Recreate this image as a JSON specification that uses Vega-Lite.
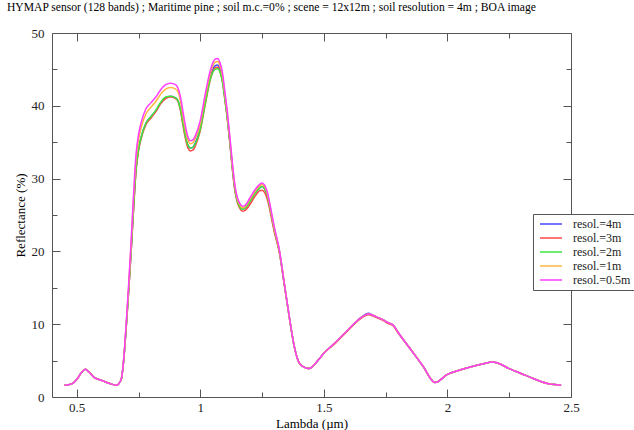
{
  "$schema": "https://vega.github.io/schema/vega-lite/v6.json",
  "width": 519,
  "height": 364,
  "autosize": {"type": "none"},
  "padding": {"left": 52, "top": 33, "right": 63, "bottom": 33},
  "background": "white",
  "title": {"text": "HYMAP sensor (128 bands) ; Maritime pine ; soil m.c.=0% ; scene = 12x12m ; soil resolution = 4m ; BOA image", "anchor": "start", "frame": "group", "dx": -45, "offset": 13, "font": "Liberation Serif", "fontSize": 11.6, "fontWeight": "normal", "color": "#000"},
  "config": {
    "view": {"stroke": "#555", "strokeWidth": 1},
    "font": "Liberation Serif",
    "axis": {"domain": false, "grid": false, "tickColor": "#555", "tickWidth": 1, "labelFont": "Liberation Serif", "labelFontSize": 13, "labelColor": "#222", "titleFont": "Liberation Serif", "titleFontSize": 13, "titleFontWeight": "normal", "titleColor": "#000", "labelOverlap": false, "labelFlush": false},
    "legend": {"labelFont": "Liberation Serif"}
  },
  "data": {"values": [
    {"l":0.45,"4m":1.6,"3m":1.6,"2m":1.6,"1m":1.6,"05m":1.6},
    {"l":0.48,"4m":1.8,"3m":1.8,"2m":1.8,"1m":1.8,"05m":1.8},
    {"l":0.50,"4m":2.4,"3m":2.4,"2m":2.4,"1m":2.4,"05m":2.4},
    {"l":0.52,"4m":3.4,"3m":3.4,"2m":3.4,"1m":3.4,"05m":3.4},
    {"l":0.535,"4m":3.8,"3m":3.8,"2m":3.8,"1m":3.8,"05m":3.8},
    {"l":0.55,"4m":3.4,"3m":3.4,"2m":3.4,"1m":3.4,"05m":3.4},
    {"l":0.57,"4m":2.7,"3m":2.7,"2m":2.7,"1m":2.7,"05m":2.7},
    {"l":0.60,"4m":2.3,"3m":2.3,"2m":2.3,"1m":2.3,"05m":2.3},
    {"l":0.63,"4m":1.9,"3m":1.9,"2m":1.9,"1m":1.9,"05m":1.9},
    {"l":0.66,"4m":1.6,"3m":1.6,"2m":1.6,"1m":1.6,"05m":1.6},
    {"l":0.68,"4m":2.4,"3m":2.4,"2m":2.4,"1m":2.4,"05m":2.4},
    {"l":0.69,"4m":5.0,"3m":5.0,"2m":5.0,"1m":5.1,"05m":5.2},
    {"l":0.70,"4m":9.5,"3m":9.4,"2m":9.5,"1m":9.8,"05m":10.0},
    {"l":0.71,"4m":14.5,"3m":14.4,"2m":14.5,"1m":15.0,"05m":15.4},
    {"l":0.72,"4m":20.0,"3m":19.8,"2m":20.0,"1m":20.8,"05m":21.3},
    {"l":0.73,"4m":26.0,"3m":25.7,"2m":26.0,"1m":27.2,"05m":27.8},
    {"l":0.74,"4m":31.3,"3m":31.0,"2m":31.3,"1m":32.6,"05m":33.3},
    {"l":0.75,"4m":34.0,"3m":33.8,"2m":34.0,"1m":35.3,"05m":36.0},
    {"l":0.76,"4m":35.6,"3m":35.4,"2m":35.6,"1m":36.9,"05m":37.6},
    {"l":0.78,"4m":37.6,"3m":37.4,"2m":37.6,"1m":38.9,"05m":39.6},
    {"l":0.80,"4m":38.5,"3m":38.3,"2m":38.5,"1m":39.8,"05m":40.4},
    {"l":0.82,"4m":39.3,"3m":39.2,"2m":39.4,"1m":40.6,"05m":41.2},
    {"l":0.84,"4m":40.4,"3m":40.3,"2m":40.5,"1m":41.6,"05m":42.2},
    {"l":0.86,"4m":41.1,"3m":41.0,"2m":41.2,"1m":42.3,"05m":42.9},
    {"l":0.88,"4m":41.3,"3m":41.2,"2m":41.3,"1m":42.5,"05m":43.1},
    {"l":0.90,"4m":41.1,"3m":41.0,"2m":41.1,"1m":42.3,"05m":42.9},
    {"l":0.91,"4m":40.7,"3m":40.6,"2m":40.7,"1m":41.9,"05m":42.4},
    {"l":0.92,"4m":39.5,"3m":39.3,"2m":39.5,"1m":40.6,"05m":41.2},
    {"l":0.93,"4m":37.6,"3m":37.3,"2m":37.6,"1m":38.6,"05m":39.2},
    {"l":0.94,"4m":35.8,"3m":35.5,"2m":35.8,"1m":36.7,"05m":37.2},
    {"l":0.95,"4m":34.6,"3m":34.2,"2m":34.6,"1m":35.3,"05m":35.7},
    {"l":0.96,"4m":34.2,"3m":33.8,"2m":34.2,"1m":34.8,"05m":35.2},
    {"l":0.97,"4m":34.3,"3m":33.9,"2m":34.3,"1m":34.9,"05m":35.3},
    {"l":0.98,"4m":34.9,"3m":34.5,"2m":34.8,"1m":35.5,"05m":35.9},
    {"l":1.00,"4m":37.0,"3m":36.6,"2m":36.8,"1m":37.6,"05m":38.0},
    {"l":1.02,"4m":40.6,"3m":40.2,"2m":40.3,"1m":41.2,"05m":41.6},
    {"l":1.04,"4m":43.9,"3m":43.5,"2m":43.6,"1m":44.4,"05m":44.8},
    {"l":1.06,"4m":45.5,"3m":45.2,"2m":45.0,"1m":46.0,"05m":46.4},
    {"l":1.07,"4m":45.6,"3m":45.3,"2m":45.1,"1m":46.1,"05m":46.5},
    {"l":1.08,"4m":45.0,"3m":44.7,"2m":44.6,"1m":45.5,"05m":45.9},
    {"l":1.09,"4m":43.6,"3m":43.3,"2m":43.2,"1m":44.1,"05m":44.5},
    {"l":1.10,"4m":41.0,"3m":40.7,"2m":40.7,"1m":41.5,"05m":41.8},
    {"l":1.11,"4m":38.3,"3m":38.0,"2m":38.1,"1m":38.7,"05m":39.0},
    {"l":1.12,"4m":35.0,"3m":34.7,"2m":34.9,"1m":35.4,"05m":35.6},
    {"l":1.13,"4m":31.5,"3m":31.2,"2m":31.4,"1m":31.8,"05m":32.1},
    {"l":1.14,"4m":28.6,"3m":28.3,"2m":28.5,"1m":28.9,"05m":29.1},
    {"l":1.15,"4m":27.0,"3m":26.7,"2m":26.9,"1m":27.2,"05m":27.4},
    {"l":1.16,"4m":26.2,"3m":25.9,"2m":26.1,"1m":26.4,"05m":26.6},
    {"l":1.17,"4m":25.8,"3m":25.5,"2m":25.8,"1m":26.0,"05m":26.2},
    {"l":1.18,"4m":25.9,"3m":25.6,"2m":25.9,"1m":26.1,"05m":26.3},
    {"l":1.20,"4m":26.8,"3m":26.4,"2m":26.8,"1m":27.1,"05m":27.3},
    {"l":1.22,"4m":27.9,"3m":27.5,"2m":27.9,"1m":28.2,"05m":28.4},
    {"l":1.24,"4m":28.7,"3m":28.3,"2m":28.7,"1m":29.0,"05m":29.2},
    {"l":1.25,"4m":28.9,"3m":28.4,"2m":28.9,"1m":29.2,"05m":29.4},
    {"l":1.26,"4m":28.6,"3m":28.1,"2m":28.6,"1m":28.9,"05m":29.1},
    {"l":1.27,"4m":27.8,"3m":27.3,"2m":27.8,"1m":28.1,"05m":28.3},
    {"l":1.28,"4m":26.3,"3m":25.9,"2m":26.3,"1m":26.6,"05m":26.8},
    {"l":1.29,"4m":24.6,"3m":24.2,"2m":24.6,"1m":24.8,"05m":25.0},
    {"l":1.30,"4m":22.9,"3m":22.6,"2m":22.9,"1m":23.1,"05m":23.3},
    {"l":1.32,"4m":20.0,"3m":19.8,"2m":20.0,"1m":20.1,"05m":20.2},
    {"l":1.34,"4m":15.5,"3m":15.4,"2m":15.5,"1m":15.6,"05m":15.6},
    {"l":1.36,"4m":11.0,"3m":11.0,"2m":11.0,"1m":11.0,"05m":11.1},
    {"l":1.38,"4m":7.0,"3m":7.0,"2m":7.0,"1m":7.0,"05m":7.0},
    {"l":1.40,"4m":4.7,"3m":4.7,"2m":4.7,"1m":4.7,"05m":4.7},
    {"l":1.42,"4m":4.1,"3m":4.1,"2m":4.1,"1m":4.1,"05m":4.1},
    {"l":1.44,"4m":3.9,"3m":3.9,"2m":3.9,"1m":3.9,"05m":3.9},
    {"l":1.46,"4m":4.4,"3m":4.4,"2m":4.4,"1m":4.4,"05m":4.4},
    {"l":1.48,"4m":5.2,"3m":5.2,"2m":5.2,"1m":5.2,"05m":5.2},
    {"l":1.50,"4m":6.0,"3m":6.0,"2m":6.0,"1m":6.0,"05m":6.0},
    {"l":1.55,"4m":7.6,"3m":7.5,"2m":7.6,"1m":7.6,"05m":7.6},
    {"l":1.60,"4m":9.3,"3m":9.2,"2m":9.3,"1m":9.3,"05m":9.3},
    {"l":1.65,"4m":10.9,"3m":10.8,"2m":10.9,"1m":10.9,"05m":10.9},
    {"l":1.68,"4m":11.5,"3m":11.3,"2m":11.4,"1m":11.4,"05m":11.4},
    {"l":1.70,"4m":11.2,"3m":11.1,"2m":11.2,"1m":11.2,"05m":11.2},
    {"l":1.72,"4m":10.9,"3m":10.8,"2m":10.9,"1m":10.9,"05m":10.9},
    {"l":1.74,"4m":10.6,"3m":10.5,"2m":10.6,"1m":10.6,"05m":10.6},
    {"l":1.76,"4m":10.2,"3m":10.1,"2m":10.2,"1m":10.2,"05m":10.2},
    {"l":1.78,"4m":9.9,"3m":9.8,"2m":9.9,"1m":9.9,"05m":9.9},
    {"l":1.80,"4m":8.9,"3m":8.8,"2m":8.9,"1m":8.9,"05m":8.9},
    {"l":1.85,"4m":6.6,"3m":6.6,"2m":6.6,"1m":6.6,"05m":6.6},
    {"l":1.90,"4m":4.3,"3m":4.3,"2m":4.3,"1m":4.3,"05m":4.3},
    {"l":1.95,"4m":2.0,"3m":2.0,"2m":2.0,"1m":2.0,"05m":2.0},
    {"l":2.00,"4m":3.1,"3m":3.1,"2m":3.1,"1m":3.1,"05m":3.1},
    {"l":2.05,"4m":3.7,"3m":3.7,"2m":3.7,"1m":3.7,"05m":3.7},
    {"l":2.10,"4m":4.2,"3m":4.2,"2m":4.2,"1m":4.2,"05m":4.2},
    {"l":2.15,"4m":4.6,"3m":4.6,"2m":4.6,"1m":4.6,"05m":4.6},
    {"l":2.18,"4m":4.8,"3m":4.8,"2m":4.8,"1m":4.8,"05m":4.8},
    {"l":2.20,"4m":4.7,"3m":4.7,"2m":4.7,"1m":4.7,"05m":4.7},
    {"l":2.25,"4m":3.9,"3m":3.9,"2m":3.9,"1m":3.9,"05m":3.9},
    {"l":2.30,"4m":3.2,"3m":3.2,"2m":3.2,"1m":3.2,"05m":3.2},
    {"l":2.35,"4m":2.5,"3m":2.5,"2m":2.5,"1m":2.5,"05m":2.5},
    {"l":2.40,"4m":1.9,"3m":1.9,"2m":1.9,"1m":1.9,"05m":1.9},
    {"l":2.45,"4m":1.65,"3m":1.65,"2m":1.65,"1m":1.65,"05m":1.65},
    {"l":2.46,"4m":1.6,"3m":1.6,"2m":1.6,"1m":1.6,"05m":1.6}
  ]},
  "transform": [{"fold": ["4m", "3m", "2m", "1m", "05m"], "as": ["s", "r"]}],
  "layer": [
    {
      "mark": {"type": "line", "strokeWidth": 1.5, "interpolate": "monotone"},
      "encoding": {
        "x": {"field": "l", "type": "quantitative", "scale": {"domain": [0.4, 2.5], "nice": false, "zero": false},
          "axis": {"orient": "bottom", "values": [0.5, 0.75, 1, 1.25, 1.5, 1.75, 2, 2.25, 2.5], "format": "~g",
            "labelExpr": "datum.value % 0.5 === 0 ? datum.label : ''",
            "tickSize": {"condition": {"test": "datum.value % 0.5 === 0", "value": -8}, "value": -5},
            "labelFont": "Liberation Serif", "titleFont": "Liberation Serif",
            "labelPadding": 12, "title": "Lambda (µm)", "titlePadding": 0}},
        "y": {"field": "r", "type": "quantitative", "scale": {"domain": [0, 50], "nice": false},
          "axis": {"orient": "left", "values": [0, 5, 10, 15, 20, 25, 30, 35, 40, 45, 50],
            "labelExpr": "datum.value % 10 === 0 ? datum.label : ''",
            "tickSize": {"condition": {"test": "datum.value % 10 === 0", "value": -8}, "value": -5},
            "labelFont": "Liberation Serif", "titleFont": "Liberation Serif",
            "labelPadding": 16, "title": "Reflectance (%)", "titlePadding": 4}},
        "color": {"field": "s", "type": "nominal",
          "scale": {"domain": ["4m", "3m", "2m", "1m", "05m"], "range": ["#4646ff", "#ff4646", "#3ce63c", "#ffb83c", "#ff3cff"]},
          "legend": {"orient": "none", "legendX": 481, "legendY": 181, "title": null, "symbolType": "M-0.55,0H3.45", "symbolSize": 121, "symbolStrokeWidth": 1.5, "labelFont": "Liberation Serif", "labelFontSize": 12, "labelColor": "#222", "labelOffset": 23.5, "padding": 3.5, "rowPadding": 1, "strokeColor": "#555", "fillColor": "white", "labelExpr": "'resol.=' + (datum.label == '05m' ? '0.5m' : datum.label)"}}
      }
    },
    {
      "mark": {"type": "line", "opacity": 0},
      "encoding": {
        "x": {"field": "l", "type": "quantitative",
          "axis": {"orient": "top", "values": [0.5, 0.75, 1, 1.25, 1.5, 1.75, 2, 2.25, 2.5], "labels": false, "title": null,
            "tickSize": {"condition": {"test": "datum.value % 0.5 === 0", "value": -8}, "value": -5}}},
        "y": {"field": "r", "type": "quantitative",
          "axis": {"orient": "right", "values": [0, 5, 10, 15, 20, 25, 30, 35, 40, 45, 50], "labels": false, "title": null,
            "tickSize": {"condition": {"test": "datum.value % 10 === 0", "value": -8}, "value": -5}}},
        "detail": {"field": "s", "type": "nominal"}
      }
    }
  ],
  "resolve": {"axis": {"x": "independent", "y": "independent"}}
}
